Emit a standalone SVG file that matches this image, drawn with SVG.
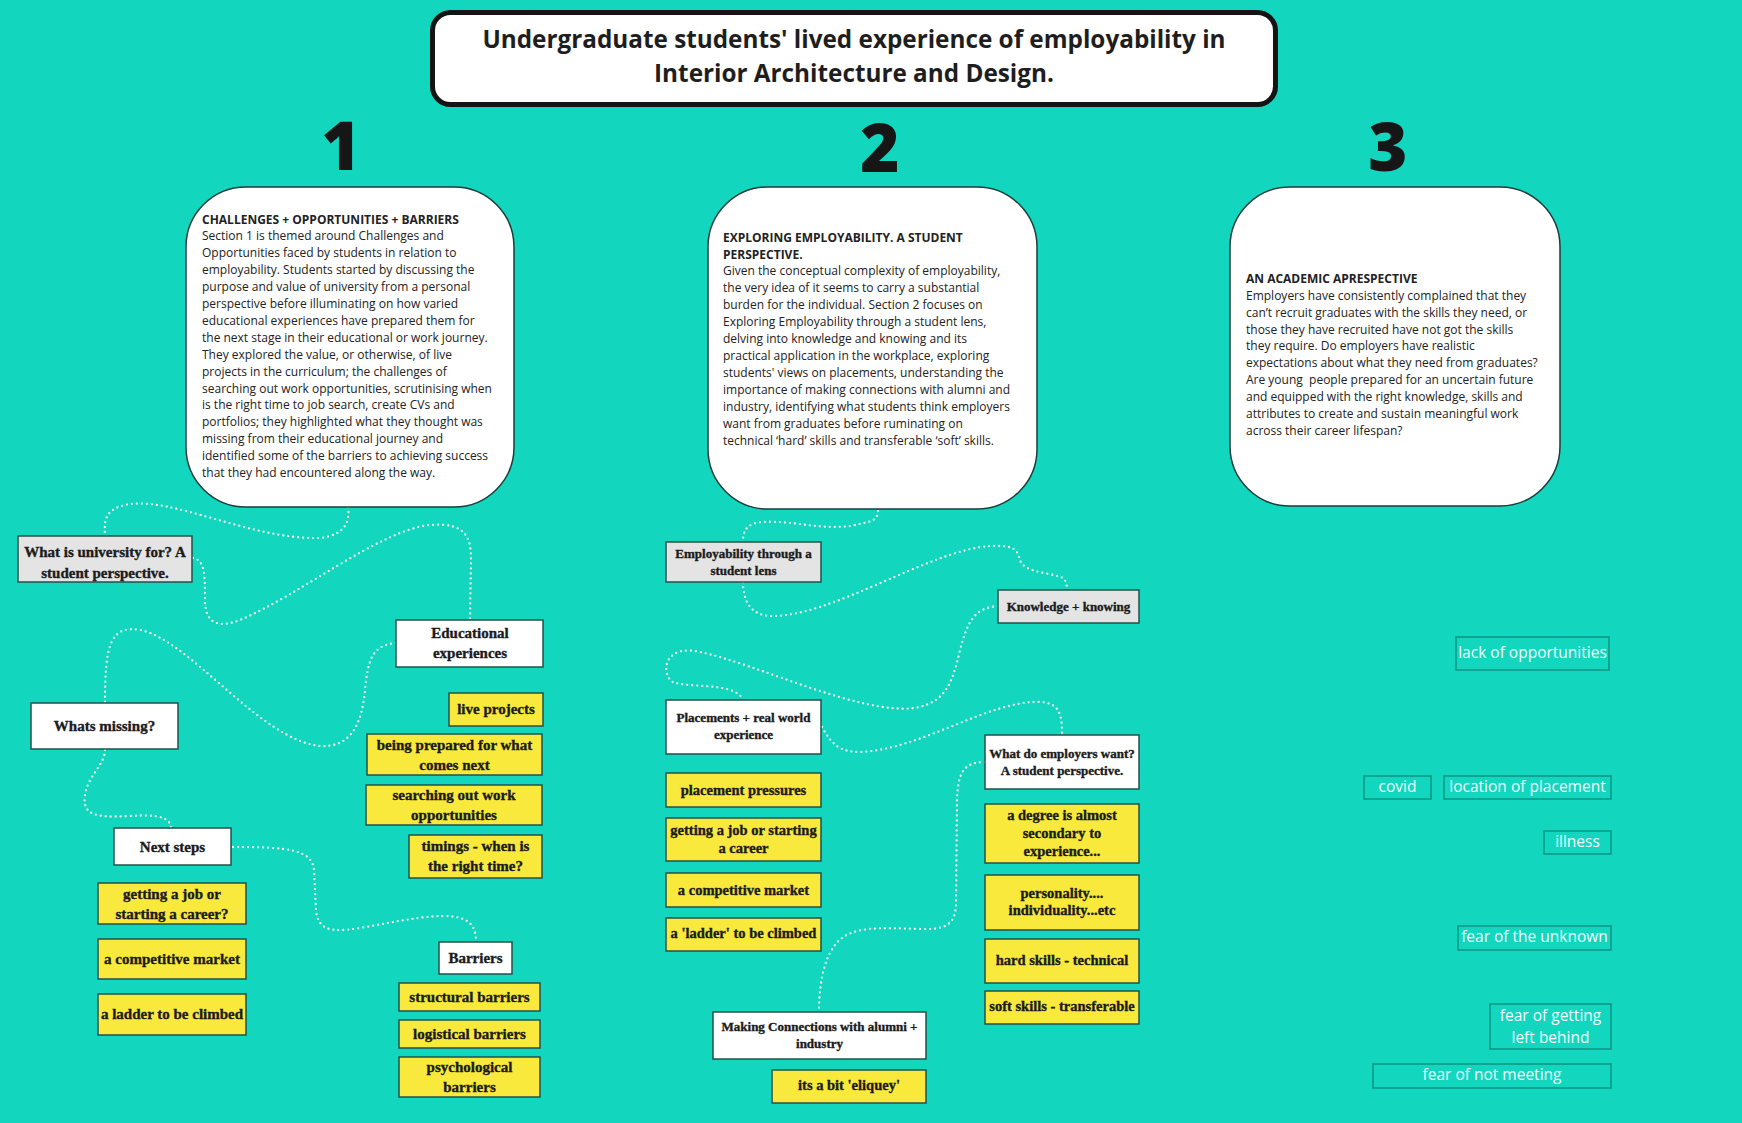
<svg xmlns="http://www.w3.org/2000/svg" width="1742" height="1123" viewBox="0 0 1742 1123">
  <style>
    .card { fill: #ffffff; stroke: #1d3d39; stroke-width: 1.5; }
    .card-t { font-family: "Open Sans", "Liberation Sans", sans-serif; font-size: 12px; fill: #222222; }
    .card-h { font-weight: bold; }
    .num { font-family: "Open Sans", "Liberation Sans", sans-serif; font-weight: 800; font-size: 67px; fill: #161616; text-anchor: middle; }
    .box { stroke: #22504a; stroke-width: 1.5; }
    .yel { fill: #f8e93c; }
    .wht { fill: #ffffff; }
    .gry { fill: #e4e4e4; }
    .out { fill: none; stroke: #0a9684; stroke-width: 1.5; }
    .lbl { font-family: "Liberation Serif", "Times New Roman", serif; font-weight: bold; fill: #1b1b1b; text-anchor: middle; stroke: #1b1b1b; stroke-width: 0.35; }
    .s1 { font-size: 15px; }
    .s2 { font-size: 13px; }
    .s3 { font-size: 14.5px; }
    .olbl { font-family: "Open Sans", "Liberation Sans", sans-serif; font-size: 15.5px; fill: #f4fffd; text-anchor: middle; }
    .link { fill: none; stroke: #ffffff; stroke-width: 2.3; stroke-dasharray: 0 5; stroke-linecap: round; }
  </style>

  <!-- canvas -->
  <rect x="0" y="0" width="1742" height="1123" fill="#12d6be"/>

  <!-- heading -->
  <g id="title">
    <rect x="432.5" y="12.5" width="843" height="92" rx="18" fill="#ffffff" stroke="#141414" stroke-width="5"/>
    <text x="854" y="48" font-family="'Open Sans', 'Liberation Sans', sans-serif" font-weight="bold" font-size="24.3" fill="#1e1e1e" text-anchor="middle">Undergraduate students' lived experience of employability in</text>
    <text x="854" y="82" font-family="'Open Sans', 'Liberation Sans', sans-serif" font-weight="bold" font-size="24.3" fill="#1e1e1e" text-anchor="middle">Interior Architecture and Design.</text>
  </g>

  <!-- section numbers -->
  <text class="num" x="341" y="170">1</text>
  <text class="num" x="880" y="172">2</text>
  <text class="num" x="1388" y="171">3</text>

  <!-- dotted connectors -->
  <g id="connectors">
    <path class="link" d="M348,507 C350,522 345,535 320,538 C250,540 170,495 125,505 C105,510 104,520 105,536"/>
    <path class="link" d="M193,558 C205,560 205,575 205,600 C205,625 220,628 240,620 C300,595 380,530 430,525 C468,522 471,540 471,560 L470,620"/>
    <path class="link" d="M396,643 C372,645 368,660 365,690 C362,725 350,748 320,746 C260,740 190,640 140,630 C110,625 105,645 105,703"/>
    <path class="link" d="M105,750 C105,765 88,775 85,795 C82,815 95,818 130,816 C160,814 170,818 171,828"/>
    <path class="link" d="M233,847 C290,847 312,850 314,870 L316,910 C318,930 330,933 360,928 C400,921 440,912 460,918 C474,922 476,932 476,942"/>
    <path class="link" d="M878,511 C878,522 868,522 850,526 C820,530 790,520 762,522 C745,524 743,532 743,542"/>
    <path class="link" d="M743,582 C743,600 750,615 770,616 C830,618 930,550 990,546 C1012,545 1017,548 1020,560 C1024,575 1060,572 1065,580 L1068,590"/>
    <path class="link" d="M998,606 C975,608 968,620 960,650 C952,685 945,702 915,708 C860,715 760,665 700,652 C670,645 660,665 670,680 C680,690 735,680 743,700"/>
    <path class="link" d="M822,727 C832,745 840,752 860,752 C920,750 990,700 1040,702 C1060,703 1062,715 1062,735"/>
    <path class="link" d="M985,762 C962,762 958,775 957,800 L956,905 C955,925 945,930 920,929 C880,928 850,925 835,945 C822,962 819,990 819,1012"/>
  </g>

  <!-- section 1 card -->
  <g id="card-1">
    <rect class="card" x="186" y="187" width="328" height="320" rx="60"/>
    <text class="card-t">
      <tspan class="card-h" x="202" y="223.5">CHALLENGES + OPPORTUNITIES + BARRIERS</tspan>
      <tspan x="202" y="240.4">Section 1 is themed around Challenges and</tspan>
      <tspan x="202" y="257.3">Opportunities faced by students in relation to</tspan>
      <tspan x="202" y="274.2">employability. Students started by discussing the</tspan>
      <tspan x="202" y="291.1">purpose and value of university from a personal</tspan>
      <tspan x="202" y="308">perspective before illuminating on how varied</tspan>
      <tspan x="202" y="324.9">educational experiences have prepared them for</tspan>
      <tspan x="202" y="341.8">the next stage in their educational or work journey.</tspan>
      <tspan x="202" y="358.7">They explored the value, or otherwise, of live</tspan>
      <tspan x="202" y="375.6">projects in the curriculum; the challenges of</tspan>
      <tspan x="202" y="392.5">searching out work opportunities, scrutinising when</tspan>
      <tspan x="202" y="409.4">is the right time to job search, create CVs and</tspan>
      <tspan x="202" y="426.3">portfolios; they highlighted what they thought was</tspan>
      <tspan x="202" y="443.2">missing from their educational journey and</tspan>
      <tspan x="202" y="460.1">identified some of the barriers to achieving success</tspan>
      <tspan x="202" y="477">that they had encountered along the way.</tspan>
    </text>
  </g>

  <!-- section 2 card -->
  <g id="card-2">
    <rect class="card" x="708" y="187" width="329" height="322" rx="60"/>
    <text class="card-t">
      <tspan class="card-h" x="723" y="241.5">EXPLORING EMPLOYABILITY. A STUDENT</tspan>
      <tspan class="card-h" x="723" y="258.5">PERSPECTIVE.</tspan>
      <tspan x="723" y="275.4">Given the conceptual complexity of employability,</tspan>
      <tspan x="723" y="292.4">the very idea of it seems to carry a substantial</tspan>
      <tspan x="723" y="309.3">burden for the individual. Section 2 focuses on</tspan>
      <tspan x="723" y="326.3">Exploring Employability through a student lens,</tspan>
      <tspan x="723" y="343.2">delving into knowledge and knowing and its</tspan>
      <tspan x="723" y="360.2">practical application in the workplace, exploring</tspan>
      <tspan x="723" y="377.1">students' views on placements, understanding the</tspan>
      <tspan x="723" y="394.1">importance of making connections with alumni and</tspan>
      <tspan x="723" y="411">industry, identifying what students think employers</tspan>
      <tspan x="723" y="428">want from graduates before ruminating on</tspan>
      <tspan x="723" y="444.9">technical ‘hard’ skills and transferable ‘soft’ skills.</tspan>
    </text>
  </g>

  <!-- section 3 card -->
  <g id="card-3">
    <rect class="card" x="1230" y="187" width="330" height="319" rx="60"/>
    <text class="card-t" style="white-space:pre">
      <tspan class="card-h" x="1246" y="283">AN ACADEMIC APRESPECTIVE</tspan>
      <tspan x="1246" y="299.9">Employers have consistently complained that they</tspan>
      <tspan x="1246" y="316.7">can’t recruit graduates with the skills they need, or</tspan>
      <tspan x="1246" y="333.6">those they have recruited have not got the skills</tspan>
      <tspan x="1246" y="350.4">they require. Do employers have realistic</tspan>
      <tspan x="1246" y="367.3">expectations about what they need from graduates?</tspan>
      <tspan x="1246" y="384.1">Are young  people prepared for an uncertain future</tspan>
      <tspan x="1246" y="401">and equipped with the right knowledge, skills and</tspan>
      <tspan x="1246" y="417.8">attributes to create and sustain meaningful work</tspan>
      <tspan x="1246" y="434.7">across their career lifespan?</tspan>
    </text>
  </g>

  <!-- section 1 topics -->
  <g id="n-university">
    <rect class="box gry" x="18" y="536" width="174" height="46"/>
    <text class="lbl s1" x="105" y="557">What is university for? A</text>
    <text class="lbl s1" x="105" y="578">student perspective.</text>
  </g>
  <g id="n-educational">
    <rect class="box wht" x="396" y="620" width="147" height="47"/>
    <text class="lbl s1" x="470" y="638">Educational</text>
    <text class="lbl s1" x="470" y="658">experiences</text>
  </g>
  <g id="n-missing">
    <rect class="box wht" x="31" y="703" width="147" height="46"/>
    <text class="lbl s1" x="104.5" y="731">Whats missing?</text>
  </g>
  <g id="n-live-projects">
    <rect class="box yel" x="449" y="693" width="94" height="33"/>
    <text class="lbl s1" x="496" y="714">live projects</text>
  </g>
  <g id="n-prepared">
    <rect class="box yel" x="367" y="734" width="175" height="41"/>
    <text class="lbl s1" x="454.5" y="750">being prepared for what</text>
    <text class="lbl s1" x="454.5" y="770">comes next</text>
  </g>
  <g id="n-searching">
    <rect class="box yel" x="366" y="785" width="176" height="40"/>
    <text class="lbl s1" x="454" y="800">searching out work</text>
    <text class="lbl s1" x="454" y="820">opportunities</text>
  </g>
  <g id="n-timings">
    <rect class="box yel" x="409" y="835" width="133" height="43"/>
    <text class="lbl s1" x="475.5" y="851">timings - when is</text>
    <text class="lbl s1" x="475.5" y="871">the right time?</text>
  </g>
  <g id="n-next-steps">
    <rect class="box wht" x="114" y="828" width="117" height="37"/>
    <text class="lbl s1" x="172.5" y="852">Next steps</text>
  </g>
  <g id="n-job-career">
    <rect class="box yel" x="98" y="883" width="148" height="41"/>
    <text class="lbl s1" x="172" y="899">getting a job or</text>
    <text class="lbl s1" x="172" y="919">starting a career?</text>
  </g>
  <g id="n-market-1">
    <rect class="box yel" x="98" y="939" width="148" height="40"/>
    <text class="lbl s1" x="172" y="964">a competitive market</text>
  </g>
  <g id="n-ladder-1">
    <rect class="box yel" x="98" y="994" width="148" height="41"/>
    <text class="lbl s1" x="172" y="1019">a ladder to be climbed</text>
  </g>
  <g id="n-barriers">
    <rect class="box wht" x="439" y="942" width="73" height="32"/>
    <text class="lbl s1" x="475.5" y="963">Barriers</text>
  </g>
  <g id="n-structural">
    <rect class="box yel" x="399" y="983" width="141" height="28"/>
    <text class="lbl s1" x="469.5" y="1002">structural barriers</text>
  </g>
  <g id="n-logistical">
    <rect class="box yel" x="399" y="1020" width="141" height="28"/>
    <text class="lbl s1" x="469.5" y="1039">logistical barriers</text>
  </g>
  <g id="n-psychological">
    <rect class="box yel" x="399" y="1057" width="141" height="40"/>
    <text class="lbl s1" x="469.5" y="1072">psychological</text>
    <text class="lbl s1" x="469.5" y="1092">barriers</text>
  </g>

  <!-- section 2 topics -->
  <g id="n-student-lens">
    <rect class="box gry" x="666" y="542" width="155" height="40"/>
    <text class="lbl s2" x="743.5" y="558">Employability through a</text>
    <text class="lbl s2" x="743.5" y="575">student lens</text>
  </g>
  <g id="n-knowledge">
    <rect class="box gry" x="998" y="590" width="141" height="33"/>
    <text class="lbl s2" x="1068.5" y="611">Knowledge + knowing</text>
  </g>
  <g id="n-placements">
    <rect class="box wht" x="666" y="700" width="155" height="54"/>
    <text class="lbl s2" x="743.5" y="722">Placements + real world</text>
    <text class="lbl s2" x="743.5" y="739">experience</text>
  </g>
  <g id="n-employers">
    <rect class="box wht" x="985" y="735" width="154" height="54"/>
    <text class="lbl s2" x="1062" y="758">What do employers want?</text>
    <text class="lbl s2" x="1062" y="775">A student perspective.</text>
  </g>
  <g id="n-pressures">
    <rect class="box yel" x="666" y="773" width="155" height="34"/>
    <text class="lbl s3" x="743.5" y="795">placement pressures</text>
  </g>
  <g id="n-job-career-2">
    <rect class="box yel" x="666" y="818" width="155" height="43"/>
    <text class="lbl s3" x="743.5" y="835">getting a job or starting</text>
    <text class="lbl s3" x="743.5" y="853">a career</text>
  </g>
  <g id="n-market-2">
    <rect class="box yel" x="666" y="873" width="155" height="34"/>
    <text class="lbl s3" x="743.5" y="895">a competitive market</text>
  </g>
  <g id="n-ladder-2">
    <rect class="box yel" x="666" y="918" width="155" height="33"/>
    <text class="lbl s3" x="743.5" y="938">a 'ladder' to be climbed</text>
  </g>
  <g id="n-degree">
    <rect class="box yel" x="985" y="804" width="154" height="59"/>
    <text class="lbl s3" x="1062" y="820">a degree is almost</text>
    <text class="lbl s3" x="1062" y="838">secondary to</text>
    <text class="lbl s3" x="1062" y="856">experience...</text>
  </g>
  <g id="n-personality">
    <rect class="box yel" x="985" y="875" width="154" height="55"/>
    <text class="lbl s3" x="1062" y="898">personality....</text>
    <text class="lbl s3" x="1062" y="915">individuality...etc</text>
  </g>
  <g id="n-hard-skills">
    <rect class="box yel" x="985" y="939" width="154" height="44"/>
    <text class="lbl s3" x="1062" y="965">hard skills - technical</text>
  </g>
  <g id="n-soft-skills">
    <rect class="box yel" x="985" y="991" width="154" height="33"/>
    <text class="lbl s3" x="1062" y="1011">soft skills - transferable</text>
  </g>
  <g id="n-connections">
    <rect class="box wht" x="713" y="1012" width="213" height="47"/>
    <text class="lbl s2" x="819.5" y="1031">Making Connections with alumni +</text>
    <text class="lbl s2" x="819.5" y="1048">industry</text>
  </g>
  <g id="n-cliquey">
    <rect class="box yel" x="772" y="1070" width="154" height="33"/>
    <text class="lbl s3" x="849" y="1090">its a bit 'eliquey'</text>
  </g>

  <!-- section 3 notes -->
  <g id="n-lack">
    <rect class="out" x="1456" y="637" width="153" height="33"/>
    <text class="olbl" x="1532.5" y="658">lack of opportunities</text>
  </g>
  <g id="n-covid">
    <rect class="out" x="1364" y="776" width="67" height="23"/>
    <text class="olbl" x="1397.5" y="792">covid</text>
  </g>
  <g id="n-location">
    <rect class="out" x="1444" y="776" width="167" height="23"/>
    <text class="olbl" x="1527.5" y="792">location of placement</text>
  </g>
  <g id="n-illness">
    <rect class="out" x="1544" y="831" width="67" height="23"/>
    <text class="olbl" x="1577.5" y="847">illness</text>
  </g>
  <g id="n-unknown">
    <rect class="out" x="1458" y="926" width="153" height="24"/>
    <text class="olbl" x="1534.5" y="942">fear of the unknown</text>
  </g>
  <g id="n-left-behind">
    <rect class="out" x="1490" y="1004" width="121" height="45"/>
    <text class="olbl" x="1550.5" y="1021">fear of getting</text>
    <text class="olbl" x="1550.5" y="1043">left behind</text>
  </g>
  <g id="n-not-meeting">
    <rect class="out" x="1373" y="1064" width="238" height="24"/>
    <text class="olbl" x="1492" y="1080">fear of not meeting</text>
  </g>
</svg>
